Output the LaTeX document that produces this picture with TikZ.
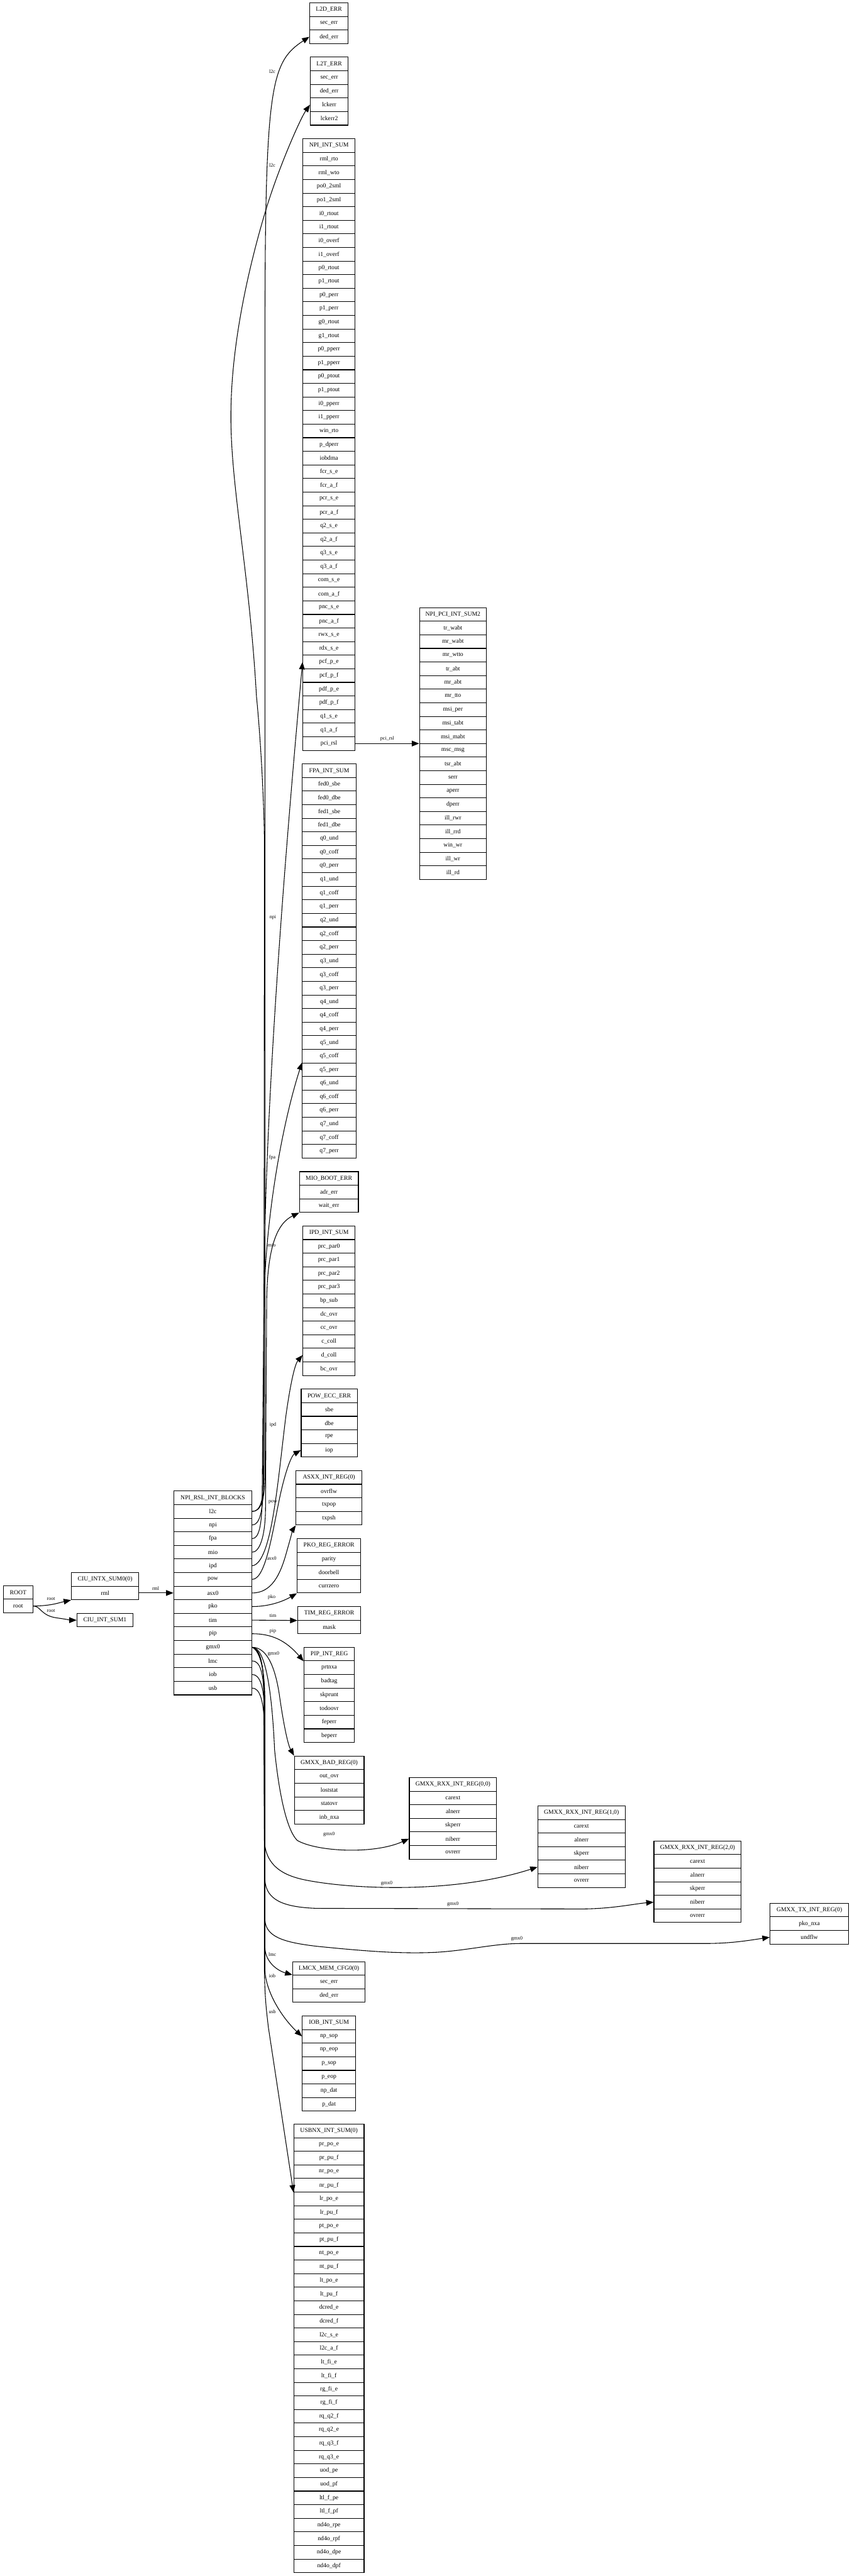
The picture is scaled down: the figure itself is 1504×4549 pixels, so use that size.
\documentclass[tikz,border=0pt]{standalone}
\usepackage{fontspec}
\setmainfont{Liberation Serif}
\usetikzlibrary{arrows.meta}
\tikzset{
  rowbox/.style={draw=black, line width=0.6pt, fill=white, inner sep=0pt,
    minimum height=12pt, font=\fontsize{5.4}{6.5}\selectfont},
  edge/.style={draw=black, line width=0.6pt, -{Triangle[length=6.5pt,width=5pt]}},
  elabel/.style={font=\fontsize{4.45}{5.5}\selectfont, inner sep=0pt},
}
\newcommand\recbox[5]{%
  \foreach \lab [count=\i from 0] in {#5}{%
    \node[rowbox, minimum width={#4*0.5pt}] (#1-\i) at ({#2+#4/2},{#3+24*\i+12}) {\lab};
  }%
}
\begin{document}
\begin{tikzpicture}[x=0.5pt,y=-0.5pt]
\useasboundingbox (0,0) rectangle (1504,4549);
\fill[white] (0,0) rectangle (1504,4549);

% ---------------- boxes ----------------
\recbox{root}{6}{2800}{52}{ROOT,root}
\recbox{ciu}{126}{2777}{119}{CIU\_INTX\_SUM0(0),rml}
\recbox{ciuone}{136}{2849}{99}{CIU\_INT\_SUM1}
\recbox{rsl}{307}{2633}{138}{NPI\_RSL\_INT\_BLOCKS,l2c,npi,fpa,mio,ipd,pow,asx0,pko,tim,pip,gmx0,lmc,iob,usb}

\recbox{l2d}{547}{5}{68}{L2D\_ERR,sec\_err,ded\_err}
\recbox{l2t}{548}{101}{67}{L2T\_ERR,sec\_err,ded\_err,lckerr,lckerr2}
\recbox{npi}{535}{245}{92}{NPI\_INT\_SUM,rml\_rto,rml\_wto,po0\_2sml,po1\_2sml,i0\_rtout,i1\_rtout,i0\_overf,i1\_overf,p0\_rtout,p1\_rtout,p0\_perr,p1\_perr,g0\_rtout,g1\_rtout,p0\_pperr,p1\_pperr,p0\_ptout,p1\_ptout,i0\_pperr,i1\_pperr,win\_rto,p\_dperr,iobdma,fcr\_s\_e,fcr\_a\_f,pcr\_s\_e,pcr\_a\_f,q2\_s\_e,q2\_a\_f,q3\_s\_e,q3\_a\_f,com\_s\_e,com\_a\_f,pnc\_s\_e,pnc\_a\_f,rwx\_s\_e,rdx\_s\_e,pcf\_p\_e,pcf\_p\_f,pdf\_p\_e,pdf\_p\_f,q1\_s\_e,q1\_a\_f,pci\_rsl}
\recbox{pci}{741}{1073}{118}{NPI\_PCI\_INT\_SUM2,tr\_wabt,mr\_wabt,mr\_wtto,tr\_abt,mr\_abt,mr\_tto,msi\_per,msi\_tabt,msi\_mabt,msc\_msg,tsr\_abt,serr,aperr,dperr,ill\_rwr,ill\_rrd,win\_wr,ill\_wr,ill\_rd}
\recbox{fpa}{534}{1349}{95}{FPA\_INT\_SUM,fed0\_sbe,fed0\_dbe,fed1\_sbe,fed1\_dbe,q0\_und,q0\_coff,q0\_perr,q1\_und,q1\_coff,q1\_perr,q2\_und,q2\_coff,q2\_perr,q3\_und,q3\_coff,q3\_perr,q4\_und,q4\_coff,q4\_perr,q5\_und,q5\_coff,q5\_perr,q6\_und,q6\_coff,q6\_perr,q7\_und,q7\_coff,q7\_perr}
\recbox{mio}{529}{2069}{104}{MIO\_BOOT\_ERR,adr\_err,wait\_err}
\recbox{ipd}{535}{2165}{92}{IPD\_INT\_SUM,prc\_par0,prc\_par1,prc\_par2,prc\_par3,bp\_sub,dc\_ovr,cc\_ovr,c\_coll,d\_coll,bc\_ovr}
\recbox{pow}{532}{2453}{99}{POW\_ECC\_ERR,sbe,dbe,rpe,iop}
\recbox{asx}{523}{2597}{116}{ASXX\_INT\_REG(0),ovrflw,txpop,txpsh}
\recbox{pko}{525}{2717}{112}{PKO\_REG\_ERROR,parity,doorbell,currzero}
\recbox{tim}{526}{2837}{111}{TIM\_REG\_ERROR,mask}
\recbox{pip}{537}{2909}{89}{PIP\_INT\_REG,prtnxa,badtag,skprunt,todoovr,feperr,beperr}
\recbox{bad}{520}{3101}{123}{GMXX\_BAD\_REG(0),out\_ovr,loststat,statovr,inb\_nxa}
\recbox{rxa}{723}{3139}{154}{{GMXX\_RXX\_INT\_REG(0,0)},carext,alnerr,skperr,niberr,ovrerr}
\recbox{rxb}{950}{3189}{154}{{GMXX\_RXX\_INT\_REG(1,0)},carext,alnerr,skperr,niberr,ovrerr}
\recbox{rxc}{1155}{3251}{154}{{GMXX\_RXX\_INT\_REG(2,0)},carext,alnerr,skperr,niberr,ovrerr}
\recbox{tx}{1360}{3361}{139}{GMXX\_TX\_INT\_REG(0),pko\_nxa,undflw}
\recbox{lmc}{517}{3464}{128}{LMCX\_MEM\_CFG0(0),sec\_err,ded\_err}
\recbox{iob}{534}{3560}{94}{IOB\_INT\_SUM,np\_sop,np\_eop,p\_sop,p\_eop,np\_dat,p\_dat}
\recbox{usb}{519}{3751}{124}{USBNX\_INT\_SUM(0),pr\_po\_e,pr\_pu\_f,nr\_po\_e,nr\_pu\_f,lr\_po\_e,lr\_pu\_f,pt\_po\_e,pt\_pu\_f,nt\_po\_e,nt\_pu\_f,lt\_po\_e,lt\_pu\_f,dcred\_e,dcred\_f,l2c\_s\_e,l2c\_a\_f,lt\_fi\_e,lt\_fi\_f,rg\_fi\_e,rg\_fi\_f,rq\_q2\_f,rq\_q2\_e,rq\_q3\_f,rq\_q3\_e,uod\_pe,uod\_pf,ltl\_f\_pe,ltl\_f\_pf,nd4o\_rpe,nd4o\_rpf,nd4o\_dpe,nd4o\_dpf}

% ---------------- edges ----------------
% root
\draw[edge] (root-1.east) .. controls (90,2836) and (105,2830) .. (ciu-1.south west);
\draw[edge] (root-1.east) .. controls (72,2836) and (72,2853) .. (100,2857) .. controls (115,2859) and (125,2861) .. (ciuone-0.west);
\draw[edge] (ciu-1.east) -- (rsl-7.west);

% upward edges
\draw[edge] (rsl-1.east) .. controls (461,2669) and (468,2650) .. (468,2600) -- (468,600) .. controls (468,150) and (478,110) .. (l2d-2.west);
\draw[edge] (rsl-1.east) .. controls (460,2669) and (466,2650) .. (466,2600) -- (467,1500) .. controls (467,1420) and (460,1300) .. (453,1230) .. controls (440,1000) and (405,850) .. (408,720) .. controls (410,600) and (440,470) .. (468,376) .. controls (490,301) and (530,210) .. (l2t-3.west);
\draw[edge] (rsl-2.east) .. controls (458,2693) and (465,2670) .. (465,2620) -- (466,2300) .. controls (467,2000) and (495,1600) .. (npi-38.west);
\draw[edge] (rsl-3.east) .. controls (457,2717) and (463,2695) .. (463,2640) -- (466,2320) .. controls (467,2150) and (500,1980) .. (fpa-22.north west);
\draw[edge] (rsl-4.east) .. controls (458,2741) and (469,2715) .. (469,2660) -- (471,2300) .. controls (472,2200) and (490,2160) .. (mio-2.south west);
\draw[edge] (rsl-5.east) .. controls (480,2760) and (490,2620) .. (505,2500) .. controls (512,2450) and (520,2410) .. (ipd-9.west);
\draw[edge] (rsl-6.east) .. controls (470,2789) and (482,2700) .. (495,2640) .. controls (505,2595) and (515,2570) .. (pow-4.west);
\draw[edge] (rsl-7.east) .. controls (480,2813) and (495,2780) .. (505,2745) .. controls (512,2720) and (518,2700) .. (asx-3.south west);
\draw[edge] (rsl-8.east) .. controls (480,2837) and (505,2825) .. (pko-3.south west);
\draw[edge] (rsl-9.east) -- (tim-0.south west);
\draw[edge] (rsl-10.east) .. controls (480,2885) and (505,2897) .. (pip-0.south west);

% downward edges
\draw[edge] (rsl-11.east) .. controls (470,2909) and (485,2940) .. (493,2990) .. controls (500,3040) and (508,3080) .. (bad-0.north west);
\draw[edge] (rsl-11.east) .. controls (468,2909) and (480,2980) .. (485,3090) .. controls (492,3160) and (505,3230) .. (525,3250) .. controls (560,3270) and (660,3275) .. (rxa-4.west);
\draw[edge] (rsl-11.east) .. controls (460,2912) and (466,2940) .. (466,2990) -- (467,3250) .. controls (469,3295) and (500,3312) .. (540,3320) .. controls (620,3336) and (800,3345) .. (rxb-4.west);
\draw[edge] (rsl-11.east) .. controls (460,2914) and (467,2945) .. (467,3000) -- (468,3320) .. controls (470,3355) and (500,3368) .. (560,3370) -- (1026,3371) .. controls (1080,3371) and (1120,3362) .. (rxc-4.west);
\draw[edge] (rsl-11.east) .. controls (460,2916) and (468,2950) .. (468,3010) -- (468,3391) .. controls (470,3420) and (500,3430) .. (560,3437) .. controls (640,3445) and (700,3450) .. (760,3448) .. controls (820,3446) and (870,3432) .. (920,3432) -- (1246,3432) .. controls (1290,3432) and (1320,3427) .. (tx-2.west);
\draw[edge] (rsl-12.east) .. controls (458,2933) and (466,2950) .. (466,3000) -- (468,3440) .. controls (469,3465) and (490,3480) .. (lmc-1.north west);
\draw[edge] (rsl-13.east) .. controls (458,2957) and (466,2975) .. (467,3020) -- (468,3480) .. controls (470,3520) and (500,3565) .. (iob-1.west);
\draw[edge] (rsl-14.east) .. controls (458,2981) and (466,3000) .. (467,3050) -- (467,3480) .. controls (468,3530) and (470,3545) .. (474,3580) -- (usb-4.south west);

% pci
\draw[edge] (npi-44.east) -- (npi-44.east -| pci-0.west);

% ---------------- edge labels ----------------
\node[elabel] (lroota) at (90,2823) {root};
\node[elabel] (lrootb) at (90,2844) {root};
\node[elabel] (lrml) at (275,2805) {rml};
\node[elabel] (ll2ca) at (481,126) {l2c};
\node[elabel] (ll2cb) at (481,292) {l2c};
\node[elabel] (lnpi) at (482,1620) {npi};
\node[elabel] (lfpa) at (481,2044) {fpa};
\node[elabel] (lmio) at (480,2199) {mio};
\node[elabel] (lipd) at (482,2516) {ipd};
\node[elabel] (lpow) at (482,2653) {pow};
\node[elabel] (lasx) at (480,2752) {asx0};
\node[elabel] (lpko) at (480,2820) {pko};
\node[elabel] (ltim) at (482,2853) {tim};
\node[elabel] (lpip) at (482,2881) {pip};
\node[elabel] (lgmxa) at (483,2921) {gmx0};
\node[elabel] (lgmxb) at (581,3239) {gmx0};
\node[elabel] (lgmxc) at (683,3326) {gmx0};
\node[elabel] (lgmxd) at (800,3363) {gmx0};
\node[elabel] (lgmxe) at (913,3424) {gmx0};
\node[elabel] (llmc) at (481,3451) {lmc};
\node[elabel] (liob) at (481,3489) {iob};
\node[elabel] (lusb) at (481,3552) {usb};
\node[elabel] (lpci) at (684,1304) {pci\_rsl};
\end{tikzpicture}
\end{document}
